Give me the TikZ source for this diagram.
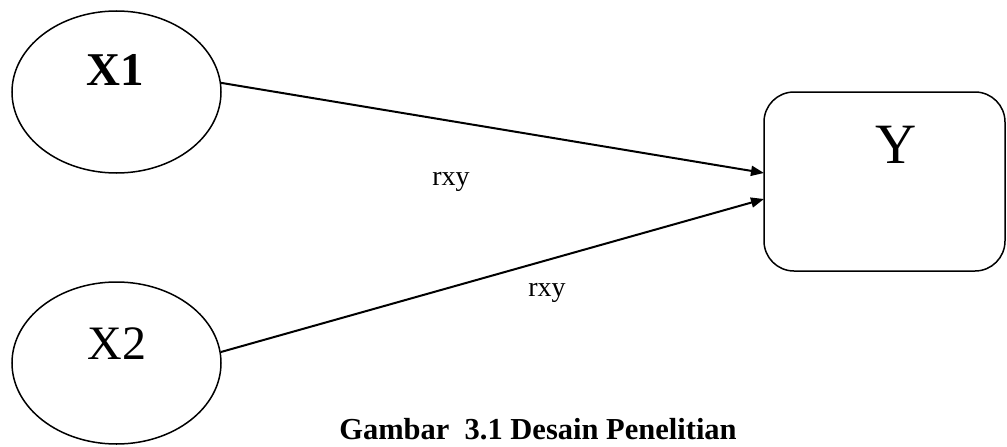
\documentclass[tikz,border=0pt]{standalone}
\usepackage{fontspec}
\setmainfont{Liberation Serif}
\usetikzlibrary{shapes.geometric,arrows.meta}
\begin{document}
\begin{tikzpicture}[x=1pt,y=-1pt,
  varell/.style={draw,line width=1.5pt,ellipse,minimum width=209pt,minimum height=162pt,inner sep=0pt},
  varbox/.style={draw,line width=1.5pt,rounded corners=30pt,minimum width=241pt,minimum height=179pt,inner sep=0pt},
  conn/.style={line width=2pt,-{Triangle[length=13pt,width=10pt]}},
  lbl/.style={font=\fontsize{28}{30}\selectfont,anchor=base,inner sep=0pt}]
\useasboundingbox (0,0) rectangle (1007,447);
\node[varell] (X1) at (116.5,92) {};
\node[varell] (X2) at (116.5,363) {};
\node[varbox] (Y) at (884.5,181.5) {};
\node[inner sep=0pt,font=\fontsize{47}{48}\selectfont\bfseries] (t1) at (115,70) {X1};
\node[inner sep=0pt,font=\fontsize{48}{50}\selectfont] (t2) at (117,344) {X2};
\node[inner sep=0pt,font=\fontsize{57}{58}\selectfont] (tY) at (896,145) {Y};
\coordinate (Yin1) at (764,173);
\coordinate (Yin2) at (764,199);
\draw[conn] (X1.5) -- (Yin1);
\draw[conn] (X2.6) -- (Yin2);
\node[lbl] (r1) at (451,185) {rxy};
\node[lbl] (r2) at (547,296) {rxy};
\node[font=\fontsize{30.5}{32}\selectfont\bfseries,anchor=base,inner sep=0pt] (cap) at (538,439) {Gambar\ \ 3.1 Desain Penelitian};
\end{tikzpicture}
\end{document}
